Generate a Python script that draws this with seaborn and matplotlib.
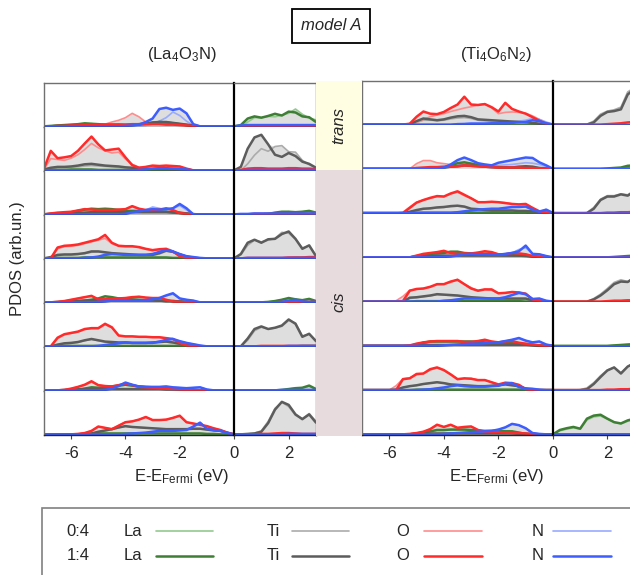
import matplotlib
matplotlib.use("Agg")
import matplotlib.pyplot as plt
from matplotlib.patches import Rectangle
from matplotlib.lines import Line2D
import numpy as np
import pandas as pd
import seaborn as sns

sns.set_theme(style="white")
plt.rcParams['font.family'] = ['Liberation Sans', 'DejaVu Sans']
plt.rcParams['mathtext.fontset'] = 'custom'
plt.rcParams['mathtext.rm'] = 'Liberation Sans'
plt.rcParams['mathtext.it'] = 'Liberation Sans:italic'
plt.rcParams['axes.unicode_minus'] = False

# ---------------- data ----------------
ENERGY = [-7.0,-6.75,-6.5,-6.25,-6.0,-5.75,-5.5,-5.25,-5.0,-4.75,-4.5,-4.25,-4.0,-3.75,-3.5,-3.25,
          -3.0,-2.75,-2.5,-2.25,-2.0,-1.75,-1.5,-1.25,-1.0,-0.75,-0.5,-0.25,0.0,
          0.25,0.5,0.75,1.0,1.25,1.5,1.75,2.0,2.25,2.5,2.75,3.0]
ROWS = ["trans", "trans", "cis", "cis", "cis", "cis", "cis", "cis"]
ELEMENTS = ["La", "Ti", "O", "N"]
RATIOS = ["0:4", "1:4"]
BLOCK_TITLES = [r"(La$_4$O$_3$N)", r"(Ti$_4$O$_6$N$_2$)"]

# ---- (La4O3N) block: values in % of panel height, -7..0 eV then 0.25..3 eV
L1_La0 = [0,1,2,3,4,5,6,6,5,5, 4,4,4,3,4,5,6,7,7,6, 4,2,1,0,0,0,0,0,0, 0,10,20,20,23,22,26,30,40,28,19,15]
L1_La1 = [0,1,2,3,4,5,7,6,5,4, 4,4,3,3,4,6,8,10,9,7, 5,3,1,0,0,0,0,0,0, 3,18,23,20,24,29,25,34,32,23,21,10]
L1_Ti0 = [0,0,1,1,1,2,2,2,2,2, 2,2,3,3,4,5,7,8,8,6, 5,3,2,0,0,0,0,0,0, 0,0,0,0,0,0,0,0,0,0,0,0]
L1_Ti1 = [0,0,1,1,2,2,2,2,2,2, 2,3,3,4,5,7,9,10,10,8, 6,4,2,0,0,0,0,0,0, 0,0,0,0,0,0,0,0,0,0,0,0]
L1_O0 = [0,1,1,2,2,3,3,4,4,5, 10,14,20,30,22,10,6,5,4,4, 3,2,0,0,0,0,0,0,0, 0,0,0,0,0,0,0,0,0,0,0,0]
L1_O1 = [0,0,1,1,2,2,3,3,3,4, 4,4,4,5,5,5,5,5,4,4, 3,2,1,0,0,0,0,0,0, 0,1,1,1,1,1,1,1,1,1,1,1]
L1_N0 = [0,0,0,0,0,0,0,0,0,0, 0,0,0,1,1,2,5,12,20,33, 25,12,2,0,0,0,0,0,0, 1,2,2,2,2,2,2,2,2,2,2,2]
L1_N1 = [0,0,0,0,0,0,0,0,0,0, 0,0,1,2,4,10,18,40,43,38, 41,30,5,0,0,0,0,0,0, 2,3,3,3,3,3,3,3,3,3,3,3]

L2_La0 = [0,1,1,1,1,1,1,1,1,1, 1,1,1,1,1,1,1,1,1,1, 1,1,0,0,0,0,0,0,0, 0,1,1,1,1,1,1,1,1,1,1,1]
L2_La1 = [0,1,1,1,2,2,2,2,1,1, 1,1,1,1,1,1,1,1,1,1, 1,1,0,0,0,0,0,0,0, 0,1,1,1,1,1,1,1,1,1,1,1]
L2_Ti0 = [1,4,6,6,7,8,10,11,10,9, 8,7,6,5,4,3,3,2,2,2, 2,1,0,0,0,0,0,0,0, 0,15,35,50,44,55,57,43,42,23,13,6]
L2_Ti1 = [2,6,8,8,9,11,14,15,13,11, 10,9,7,6,5,4,3,3,3,2, 2,1,0,0,0,0,0,0,0, 8,50,76,82,60,36,31,40,33,20,15,6]
L2_O0 = [3,27,25,23,28,36,48,62,52,45, 40,42,26,14,7,8,10,10,10,8, 6,3,0,0,0,0,0,0,0, 1,2,3,3,3,3,3,3,3,3,3,2]
L2_O1 = [4,45,28,30,33,45,62,78,60,46, 48,50,30,12,6,8,11,10,11,10, 9,4,0,0,0,0,0,0,0, 1,4,5,5,4,4,4,5,5,4,4,3]
L2_N0 = [0,0,0,0,0,0,0,0,0,0, 0,0,0,0,1,2,4,5,5,6, 4,2,0,0,0,0,0,0,0, 0,1,1,1,1,1,1,1,1,1,1,1]
L2_N1 = [0,0,0,0,0,0,0,0,0,0, 0,0,0,0,1,2,4,5,5,4, 3,2,0,0,0,0,0,0,0, 0,1,1,1,1,1,1,1,1,1,1,1]

L3_La0 = [0,1,2,3,5,8,10,12,12,12, 11,10,8,8,8,8,8,7,6,4, 3,2,0,0,0,0,0,0,0, 0,0,0,0,1,3,5,6,5,6,7,4]
L3_La1 = [0,1,2,3,5,8,11,13,12,13, 12,10,8,8,8,8,8,7,6,4, 3,2,0,0,0,0,0,0,0, 0,0,0,0,1,4,6,6,5,6,8,4]
L3_Ti0 = [0,0,1,2,3,3,4,4,4,4, 4,4,4,4,4,4,4,4,4,4, 3,2,0,0,0,0,0,0,0, 0,0,0,0,0,0,0,0,0,0,0,0]
L3_Ti1 = [0,1,1,2,3,4,4,5,5,5, 5,5,5,5,5,5,5,5,5,5, 4,2,0,0,0,0,0,0,0, 0,0,0,0,0,0,0,0,0,0,0,0]
L3_O0 = [0,2,3,4,5,8,11,11,10,10, 10,11,12,17,13,10,10,11,13,9, 3,1,0,0,0,0,0,0,0, 0,0,1,1,1,1,1,1,1,1,1,1]
L3_O1 = [0,2,4,5,6,9,12,11,10,10, 10,11,12,19,13,10,10,11,14,10, 3,1,0,0,0,0,0,0,0, 0,0,1,1,1,1,1,1,1,1,1,1]
L3_N0 = [0,0,0,0,0,0,0,0,0,0, 0,0,1,3,5,10,17,14,10,14, 20,10,2,0,0,0,0,0,0, 1,1,2,2,2,2,2,2,2,2,2,2]
L3_N1 = [0,0,0,0,0,0,0,0,0,0, 0,0,1,5,7,10,12,11,12,14, 24,14,0,0,0,0,0,0,0, 1,1,2,2,2,2,2,2,2,2,2,2]

L4_La0 = [0,0,1,1,1,1,2,2,2,2, 2,2,2,2,2,2,2,2,2,1, 1,0,0,0,0,0,0,0,0, 0,0,0,0,0,0,0,0,1,1,1,1]
L4_La1 = [0,0,1,1,1,1,2,2,2,2, 2,2,2,2,2,2,2,2,2,1, 1,0,0,0,0,0,0,0,0, 0,0,0,0,0,0,0,0,1,1,1,1]
L4_Ti0 = [0,2,6,8,8,9,11,14,15,13, 11,10,9,8,7,7,7,10,16,14, 8,3,1,0,0,0,0,0,0, 8,30,42,38,42,46,60,58,44,24,29,6]
L4_Ti1 = [0,3,8,9,9,10,12,16,16,14, 12,11,10,9,8,8,8,12,18,15, 9,4,1,0,0,0,0,0,0, 10,36,43,36,44,45,56,62,45,22,30,5]
L4_O0 = [0,0,22,27,28,30,34,38,42,46, 34,28,27,27,25,21,18,20,21,15, 5,1,0,0,0,0,0,0,0, 0,1,1,1,1,1,1,2,2,2,3,3]
L4_O1 = [0,0,25,29,30,32,36,40,44,54, 36,29,28,28,26,22,19,21,22,16, 5,1,0,0,0,0,0,0,0, 0,1,1,1,1,1,1,2,2,2,3,3]
L4_N0 = [0,0,0,0,0,0,1,2,4,8, 9,9,8,8,8,8,10,14,18,15, 10,5,3,1,0,0,0,0,0, 0,1,1,1,1,1,1,1,1,1,1,1]
L4_N1 = [0,0,0,0,0,0,1,2,4,8, 10,9,8,8,8,8,10,15,19,16, 10,5,3,1,0,0,0,0,0, 0,1,1,1,1,1,1,1,1,1,1,1]

L5_La0 = [0,0,0,0,2,3,4,6,8,13, 11,9,7,6,5,5,4,4,3,3, 2,1,1,0,0,0,0,0,0, 0,0,0,0,1,3,6,9,7,5,7,3]
L5_La1 = [0,0,0,0,2,3,4,6,9,14, 12,9,8,7,6,5,5,4,3,3, 2,1,1,0,0,0,0,0,0, 0,0,0,0,1,3,6,10,7,5,8,3]
L5_Ti0 = [0,0,0,1,2,2,3,3,3,3, 3,3,3,3,3,3,3,3,2,2, 2,1,0,0,0,0,0,0,0, 0,0,0,0,0,0,0,0,0,0,0,0]
L5_Ti1 = [0,0,1,2,3,3,4,4,4,4, 4,4,4,4,4,4,4,4,3,3, 2,1,0,0,0,0,0,0,0, 0,0,0,0,0,0,0,0,0,0,0,0]
L5_O0 = [0,0,1,3,6,9,12,14,7,7, 8,9,10,12,13,11,10,10,6,2, 1,0,0,0,0,0,0,0,0, 0,0,0,0,0,0,1,1,1,1,1,1]
L5_O1 = [0,0,1,3,6,9,12,15,7,7, 8,9,10,12,13,11,10,10,6,2, 1,0,0,0,0,0,0,0,0, 0,0,0,0,0,0,1,1,1,1,1,1]
L5_N0 = [0,0,0,0,0,0,0,0,1,2, 4,5,5,4,4,5,7,10,15,19, 9,6,4,0,0,0,0,0,0, 0,0,0,0,0,0,1,3,5,2,1,1]
L5_N1 = [0,0,0,0,0,0,0,0,1,2, 4,5,5,4,4,5,7,10,16,21, 9,6,4,0,0,0,0,0,0, 0,0,0,0,0,0,1,4,6,2,1,1]

L6_La0 = [0,0,0,1,1,1,1,1,1,1, 1,1,1,1,1,1,1,1,1,1, 1,0,0,0,0,0,0,0,0, 0,0,0,0,0,0,0,0,0,1,1,1]
L6_La1 = [0,0,0,1,1,1,1,1,1,1, 1,1,1,1,1,1,1,1,1,1, 1,0,0,0,0,0,0,0,0, 0,0,0,0,0,0,0,0,0,1,1,1]
L6_Ti0 = [0,0,3,6,7,9,13,16,13,10, 9,8,8,7,7,7,8,9,10,8, 5,3,1,0,0,0,0,0,0, 0,14,36,44,40,42,46,60,54,24,28,13]
L6_Ti1 = [0,0,4,7,8,10,14,17,14,11, 10,9,9,8,8,8,9,10,11,9, 6,3,1,0,0,0,0,0,0, 0,18,40,46,40,43,48,62,52,22,29,12]
L6_O0 = [0,0,18,27,30,33,39,41,41,50, 43,25,23,23,22,22,21,21,19,16, 8,2,0,0,0,0,0,0,0, 0,0,0,1,1,1,1,1,1,1,1,1]
L6_O1 = [0,0,20,28,31,34,40,42,42,52, 44,25,23,23,22,22,21,21,19,17, 8,2,0,0,0,0,0,0,0, 0,0,0,1,1,1,1,1,1,1,1,1]
L6_N0 = [0,0,0,0,0,0,0,0,1,3, 5,7,9,8,8,8,8,11,15,17, 12,8,5,2,0,0,0,0,0, 0,0,0,0,0,0,0,1,1,1,1,1]
L6_N1 = [0,0,0,0,0,0,0,0,1,3, 5,7,9,8,8,8,8,11,15,17, 12,8,5,2,0,0,0,0,0, 0,0,0,0,0,0,0,1,1,1,1,1]

L7_La0 = [0,0,0,0,0,2,4,6,6,7, 8,10,12,10,9,8,7,6,5,4, 3,2,1,0,0,0,0,0,0, 0,0,0,0,0,0,1,3,5,6,9,3]
L7_La1 = [0,0,0,0,0,2,4,7,6,7, 9,11,13,11,9,8,7,6,5,4, 3,2,1,0,0,0,0,0,0, 0,0,0,0,0,0,1,3,5,6,11,3]
L7_Ti0 = [0,0,0,1,1,2,2,2,2,2, 2,2,2,2,2,2,2,2,2,2, 1,1,0,0,0,0,0,0,0, 0,0,0,0,0,0,0,0,0,0,0,0]
L7_Ti1 = [0,0,0,1,2,2,3,3,3,3, 3,3,3,3,3,3,3,3,2,2, 2,1,0,0,0,0,0,0,0, 0,0,0,0,0,0,0,0,0,0,0,0]
L7_O0 = [0,0,0,1,4,8,12,19,12,10, 9,12,15,12,8,7,6,5,4,3, 2,1,0,0,0,0,0,0,0, 0,0,0,0,0,0,0,0,0,0,0,0]
L7_O1 = [0,0,0,1,4,8,13,21,12,10, 9,12,16,12,8,7,6,5,4,3, 2,1,0,0,0,0,0,0,0, 0,0,0,0,0,0,0,0,0,0,0,0]
L7_N0 = [0,0,0,0,0,0,0,0,0,1, 4,10,17,13,9,8,8,8,9,7, 6,5,6,7,2,0,0,0,0, 0,0,0,0,0,0,1,1,1,1,1,1]
L7_N1 = [0,0,0,0,0,0,0,0,0,1, 4,10,18,13,9,8,8,8,9,7, 6,5,6,7,2,0,0,0,0, 0,0,0,0,0,0,1,1,1,1,1,1]

L8_La0 = [0,0,0,0,0,0,1,1,2,2, 2,2,2,2,2,2,2,2,2,2, 2,2,2,2,1,1,0,0,0, 0,0,0,0,0,0,0,0,0,0,0,0]
L8_La1 = [0,0,0,0,0,0,1,1,2,2, 2,2,2,2,2,2,2,2,2,2, 2,2,2,2,1,1,0,0,0, 0,0,0,0,0,0,0,0,0,0,0,0]
L8_Ti0 = [0,0,0,0,0,0,0,2,5,8, 11,15,18,17,16,15,14,13,12,12, 12,12,13,13,11,9,8,4,0, 0,1,3,8,30,60,74,64,44,36,48,30]
L8_Ti1 = [0,0,0,0,0,0,0,2,6,9, 12,16,19,17,16,15,14,13,12,12, 12,12,13,13,11,9,8,4,0, 0,1,2,6,26,57,75,68,46,35,46,27]
L8_O0 = [0,0,0,0,0,1,3,8,18,15, 12,20,28,30,34,40,33,33,34,38, 43,28,25,22,19,14,10,4,0, 0,0,0,1,1,2,3,3,2,1,1,1]
L8_O1 = [0,0,0,0,0,1,3,8,18,15, 12,20,28,30,34,40,33,33,34,38, 43,28,25,22,19,14,10,4,0, 0,0,0,1,1,2,3,3,2,1,1,1]
L8_N0 = [0,0,0,0,0,0,0,0,0,0, 0,0,1,2,3,4,6,8,8,8, 9,10,18,27,13,10,8,3,0, 0,0,0,0,0,0,0,1,1,1,1,1]
L8_N1 = [0,0,0,0,0,0,0,0,0,0, 0,0,1,2,3,4,6,8,8,8, 9,10,18,27,13,10,8,3,0, 0,0,0,0,0,0,0,1,1,1,1,1]

# ---- (Ti4O6N2) block
R1_La0 = [0,0,0,0,0,0,0,0,0,0, 0,0,0,0,0,0,0,0,0,0, 0,0,0,0,0,0,0,0,0, 0,0,0,0,0,0,0,0,0,0,0,0]
R1_La1 = [0,0,0,0,0,0,0,0,0,0, 0,0,0,0,0,0,0,0,0,0, 0,0,0,0,0,0,0,0,0, 0,0,0,0,0,0,0,0,0,0,0,0]
R1_Ti0 = [0,0,0,0,0,0,0,1,5,10, 10,9,10,13,15,16,14,10,9,8, 7,7,6,5,5,3,2,1,0, 0,0,0,0,1,8,24,31,34,40,75,85]
R1_Ti1 = [0,0,0,0,0,0,0,1,8,14, 12,10,12,16,19,20,17,12,11,10, 9,8,7,6,5,4,2,1,0, 0,0,0,0,0,5,20,29,31,35,69,82]
R1_O0 = [0,0,0,0,0,0,0,0,5,12, 18,22,25,30,34,38,41,45,48,38, 25,28,29,28,26,20,12,4,0, 0,0,0,0,0,0,0,1,1,2,3,4]
R1_O1 = [0,0,0,0,0,0,0,2,18,30, 25,24,29,38,46,64,46,45,47,40, 30,50,36,30,25,17,9,2,0, 0,0,0,0,0,0,0,1,2,3,5,6]
R1_N0 = [0,0,0,0,0,0,0,0,0,0, 0,0,0,0,2,3,4,4,5,5, 6,6,7,8,10,14,12,6,1, 0,0,0,0,0,0,0,0,0,0,0,0]
R1_N1 = [0,0,0,0,0,0,0,0,0,0, 0,0,0,0,1,1,2,2,2,3, 3,3,4,5,6,10,8,3,0, 0,0,0,0,0,0,0,0,0,0,0,0]

R2_La0 = [0,0,0,0,0,0,0,0,0,0, 0,0,2,5,9,11,9,7,5,4, 3,2,1,0,0,0,0,0,0, 0,0,0,0,0,0,0,0,1,2,4,5]
R2_La1 = [0,0,0,0,0,0,0,0,0,0, 0,0,3,8,13,15,12,9,7,5, 4,3,2,1,0,0,0,0,0, 0,0,0,0,0,0,0,1,2,3,7,8]
R2_Ti0 = [0,0,0,0,0,0,0,0,0,0, 0,0,2,4,5,6,6,5,4,3, 3,3,3,4,5,4,2,1,0, 0,0,0,0,0,0,0,0,0,0,0,0]
R2_Ti1 = [0,0,0,0,0,0,0,0,0,0, 0,0,3,5,6,8,7,6,5,4, 3,3,3,5,6,5,2,1,0, 0,0,0,0,0,0,0,0,0,0,0,0]
R2_O0 = [0,0,0,0,0,0,0,0,12,19, 19,14,12,10,9,8,7,7,6,5, 4,4,5,5,4,3,2,1,0, 0,0,0,0,0,0,0,0,0,0,0,0]
R2_O1 = [0,0,0,0,0,0,0,0,2,3, 4,4,5,5,6,8,7,6,5,4, 3,3,3,3,2,2,1,0,0, 0,0,0,0,0,0,0,0,0,0,0,0]
R2_N0 = [0,0,0,0,0,0,0,0,0,0, 0,0,2,5,8,13,12,11,10,9, 8,9,10,12,14,13,10,5,0, 0,0,0,0,0,0,0,0,0,1,1,1]
R2_N1 = [0,0,0,0,0,0,0,0,0,0, 0,1,3,10,20,26,20,13,10,8, 14,17,20,23,26,25,15,8,0, 0,0,0,0,0,0,0,0,0,1,1,1]

R3_La0 = [0,0,0,0,0,0,0,0,1,1, 1,1,1,1,1,1,1,1,1,1, 1,1,1,1,1,0,0,0,0, 0,0,0,0,0,0,0,0,0,0,0,0]
R3_La1 = [0,0,0,0,0,0,0,0,1,1, 1,1,1,1,1,1,1,1,1,1, 1,1,1,1,1,0,0,0,0, 0,0,0,0,0,0,0,0,0,0,0,0]
R3_Ti0 = [0,0,0,0,0,0,0,3,6,9, 10,12,13,15,16,14,10,9,7,6, 6,6,6,5,5,4,2,1,0, 0,0,0,0,1,13,32,40,40,44,42,52]
R3_Ti1 = [0,0,0,0,0,0,0,3,7,10, 11,13,14,16,17,15,10,9,7,6, 6,6,6,5,5,4,2,1,0, 0,0,0,0,0,10,30,38,38,43,40,50]
R3_O0 = [0,0,0,0,0,0,2,14,25,30, 34,38,38,44,48,40,34,26,25,26, 25,24,21,20,20,12,4,1,0, 0,0,0,0,0,0,0,1,1,2,2,3]
R3_O1 = [0,0,0,0,0,0,0,12,24,30, 35,39,38,45,50,42,34,25,25,26, 25,23,21,20,21,12,4,1,0, 0,0,0,0,0,0,0,1,1,2,2,3]
R3_N0 = [0,0,0,0,0,0,0,0,0,0, 0,0,0,0,2,4,6,8,9,10, 10,12,13,14,14,8,5,8,1, 0,0,0,0,0,0,0,0,0,0,0,0]
R3_N1 = [0,0,0,0,0,0,0,0,0,0, 0,0,0,0,2,4,6,8,9,10, 10,12,14,14,15,8,3,8,0, 0,0,0,0,0,0,0,0,0,0,0,0]

R4_La0 = [0,0,0,0,0,0,0,0,2,4, 7,8,10,12,12,10,9,8,8,7, 6,5,5,4,3,2,1,0,0, 0,0,0,0,0,0,0,0,0,1,2,3]
R4_La1 = [0,0,0,0,0,0,0,0,2,5, 8,9,10,13,13,10,9,8,8,7, 6,5,5,4,3,2,1,0,0, 0,0,0,0,0,0,0,0,1,2,3,4]
R4_Ti0 = [0,0,0,0,0,0,0,0,1,2, 2,3,3,3,3,3,3,3,3,3, 3,3,3,3,3,2,1,0,0, 0,0,0,0,0,0,0,0,0,0,0,0]
R4_Ti1 = [0,0,0,0,0,0,0,0,2,3, 3,4,4,4,4,4,4,4,4,4, 4,4,4,4,4,2,1,0,0, 0,0,0,0,0,0,0,0,0,0,0,0]
R4_O0 = [0,0,0,0,0,0,0,0,4,7, 9,11,14,10,8,9,9,11,13,12, 7,7,9,9,7,3,1,0,0, 0,0,0,0,0,0,0,0,0,0,0,0]
R4_O1 = [0,0,0,0,0,0,0,0,4,8, 10,12,15,10,8,9,9,11,14,12, 7,7,10,9,7,3,1,0,0, 0,0,0,0,0,0,0,0,0,0,0,0]
R4_N0 = [0,0,0,0,0,0,0,0,0,0, 0,0,1,2,4,6,7,7,6,6, 6,8,10,18,22,8,7,3,0, 0,0,0,0,0,0,0,0,0,0,0,0]
R4_N1 = [0,0,0,0,0,0,0,0,0,0, 0,0,1,2,4,7,8,7,7,6, 6,8,10,14,27,8,7,3,0, 0,0,0,0,0,0,0,0,0,0,0,0]

R5_La0 = [0,0,0,0,0,0,0,0,1,1, 1,1,1,1,1,1,1,1,1,1, 1,1,1,1,0,0,0,0,0, 0,0,0,0,0,0,0,0,0,0,0,0]
R5_La1 = [0,0,0,0,0,0,0,0,1,1, 1,1,1,1,1,1,1,1,1,1, 1,1,1,1,0,0,0,0,0, 0,0,0,0,0,0,0,0,0,0,0,0]
R5_Ti0 = [0,0,0,0,0,0,0,7,9,11, 13,16,15,14,13,11,9,8,7,7, 6,6,6,6,6,3,1,0,0, 0,0,0,0,0,7,17,30,44,50,46,56]
R5_Ti1 = [0,0,0,0,0,0,0,9,10,12, 14,17,16,15,14,12,10,9,8,7, 7,7,7,7,7,3,1,0,0, 0,0,0,0,0,5,14,26,40,46,45,55]
R5_O0 = [0,0,0,0,0,2,12,26,28,30, 33,39,40,44,51,40,32,25,28,26, 19,20,22,21,19,6,2,1,0, 0,0,0,0,0,0,0,1,2,2,3,3]
R5_O1 = [0,0,0,0,0,0,1,25,29,30, 34,40,40,46,50,40,30,25,28,28, 19,20,22,21,18,5,2,0,0, 0,0,0,0,0,0,0,1,2,2,3,3]
R5_N0 = [0,0,0,0,0,0,0,0,0,0, 0,0,2,3,5,7,7,7,7,7, 7,10,15,19,16,6,7,2,0, 0,0,0,0,0,0,0,0,0,0,0,0]
R5_N1 = [0,0,0,0,0,0,0,0,0,0, 0,0,2,3,5,7,7,7,7,7, 7,10,15,20,17,6,7,2,0, 0,0,0,0,0,0,0,0,0,0,0,0]

R6_La0 = [0,0,0,0,0,0,0,0,2,5, 8,9,9,9,9,9,9,8,7,6, 6,5,5,4,3,2,1,0,0, 0,0,0,0,0,0,0,0,1,2,3,4]
R6_La1 = [0,0,0,0,0,0,0,0,3,7, 10,10,10,10,10,10,10,9,8,7, 7,6,6,4,3,2,1,0,0, 0,0,0,0,0,0,0,0,1,2,3,4]
R6_Ti0 = [0,0,0,0,0,0,0,0,1,2, 2,2,2,2,2,2,2,2,2,2, 2,2,2,2,2,1,0,0,0, 0,0,0,0,0,0,0,0,0,0,0,0]
R6_Ti1 = [0,0,0,0,0,0,0,0,1,2, 2,2,2,2,2,2,2,2,2,2, 2,2,2,2,2,1,0,0,0, 0,0,0,0,0,0,0,0,0,0,0,0]
R6_O0 = [0,0,0,0,0,0,0,1,5,8, 10,11,11,11,11,9,9,11,14,10, 8,10,11,7,5,3,1,0,0, 0,0,0,0,0,0,0,0,0,0,0,0]
R6_O1 = [0,0,0,0,0,0,0,1,5,8, 10,11,11,11,11,9,9,11,14,10, 8,10,11,7,5,3,1,0,0, 0,0,0,0,0,0,0,0,0,0,0,0]
R6_N0 = [0,0,0,0,0,0,0,0,0,0, 0,0,1,2,3,4,5,5,6,7, 8,11,14,17,12,8,10,3,0, 0,0,0,0,0,0,0,0,0,0,0,0]
R6_N1 = [0,0,0,0,0,0,0,0,0,0, 0,0,1,2,3,4,5,5,6,7, 8,11,14,18,12,8,10,3,0, 0,0,0,0,0,0,0,0,0,0,0,0]

R7_La0 = [0,0,0,0,0,0,0,0,1,1, 1,1,1,1,1,1,1,1,1,1, 1,1,1,1,0,0,0,0,0, 0,0,0,0,0,0,0,0,0,0,0,0]
R7_La1 = [0,0,0,0,0,0,0,0,1,1, 1,1,1,1,1,1,1,1,1,1, 1,1,1,1,0,0,0,0,0, 0,0,0,0,0,0,0,0,0,0,0,0]
R7_Ti0 = [0,0,0,0,0,1,6,9,11,14, 16,18,16,13,12,11,10,9,9,10, 11,13,11,9,3,0,0,0,0, 0,0,0,1,5,17,33,46,52,40,54,64]
R7_Ti1 = [0,0,0,0,0,1,6,9,11,14, 16,18,16,13,12,11,10,9,9,10, 11,13,11,9,3,0,0,0,0, 0,0,0,0,2,14,30,45,52,38,54,62]
R7_O0 = [0,0,0,0,0,10,26,28,35,38, 46,51,45,36,26,26,27,23,23,18, 13,16,16,12,3,0,0,0,0, 0,0,0,0,0,0,0,1,1,2,2,3]
R7_O1 = [0,0,0,0,0,0,25,27,37,38, 48,52,46,36,25,27,26,23,23,18, 13,17,16,12,2,0,0,0,0, 0,0,0,0,0,0,0,1,1,2,2,3]
R7_N0 = [0,0,0,0,0,0,0,0,0,1, 2,4,6,9,11,9,8,8,8,9, 10,15,16,7,4,3,1,0,0, 0,0,0,0,0,0,0,0,0,0,0,0]
R7_N1 = [0,0,0,0,0,0,0,0,0,1, 2,4,6,9,11,9,8,8,8,9, 10,15,16,7,4,3,1,0,0, 0,0,0,0,0,0,0,0,0,0,0,0]

R8_La0 = [0,0,0,0,0,0,0,0,2,3, 6,9,9,10,10,10,9,8,7,7, 7,7,6,4,1,0,0,0,0, 8,12,15,12,33,40,42,35,27,24,30,34]
R8_La1 = [0,0,0,0,0,0,0,0,2,4, 7,10,10,11,11,11,10,9,8,8, 8,7,7,4,1,0,0,0,0, 10,14,17,13,36,43,45,36,28,25,32,36]
R8_Ti0 = [0,0,0,0,0,0,0,0,1,2, 2,2,2,2,2,2,2,2,2,2, 2,2,2,1,1,0,0,0,0, 0,0,0,0,0,0,0,0,0,0,0,0]
R8_Ti1 = [0,0,0,0,0,0,0,0,1,2, 2,2,2,2,2,2,2,2,2,2, 2,2,2,1,1,0,0,0,0, 0,0,0,0,0,0,0,0,0,0,0,0]
R8_O0 = [0,0,0,0,0,0,0,1,3,6, 12,22,17,22,15,17,18,10,6,5, 5,4,3,3,2,1,0,0,0, 0,0,0,0,0,0,0,0,0,0,0,0]
R8_O1 = [0,0,0,0,0,0,0,1,3,6, 12,22,17,22,15,17,18,10,6,5, 5,4,3,3,2,1,0,0,0, 0,0,0,0,0,0,0,0,0,0,0,0]
R8_N0 = [0,0,0,0,0,0,0,0,0,0, 0,0,1,2,3,4,5,6,7,8, 11,16,24,21,14,3,1,0,0, 0,0,0,0,0,0,0,0,0,0,0,0]
R8_N1 = [0,0,0,0,0,0,0,0,0,0, 0,0,1,2,3,4,5,6,7,8, 11,16,24,21,14,3,1,0,0, 0,0,0,0,0,0,0,0,0,0,0,0]

# ---------------- style ----------------
SERIES = ["La0", "Ti0", "O0", "N0", "La1", "Ti1", "O1", "N1"]
COLORS = {"La0": "#93c98f", "La1": "#3f7f35", "Ti0": "#ababab", "Ti1": "#5c5c5c",
          "O0": "#ff8c8c", "O1": "#ff2b2b", "N0": "#97abff", "N1": "#3d5eff"}
WIDTHS = {s: (1.2 if s.endswith("0") else 1.8) for s in SERIES}

W, H = 630, 575
fig = plt.figure(figsize=(W / 100, H / 100), dpi=100)
fig.patch.set_facecolor("white")

def box(x0, y0, x1, y1):
    return [x0 / W, 1 - y1 / H, (x1 - x0) / W, (y1 - y0) / H]

bad = []
def series(block, row, s):
    arr = globals()[f"{block}{row}_{s}"]
    if len(arr) != len(ENERGY):
        bad.append(f"{block}{row}_{s}:{len(arr)}")
        arr = (list(arr) + [0] * 41)[:41]
    return np.array(arr, dtype=float)

BLOCKS = {
    "L": dict(xv=(44, 234), xc=(234, 316), top=83.0, rh=44.0),
    "R": dict(xv=(362, 553), xc=(553, 634.5), top=81.0, rh=44.25),
}
EN = np.array(ENERGY)

for b, geo in BLOCKS.items():
    for r in range(8):
        y0 = geo["top"] + r * geo["rh"]
        y1 = y0 + geo["rh"]
        for part in ("v", "c"):
            xs = geo["xv"] if part == "v" else geo["xc"]
            ax = fig.add_axes(box(xs[0], y0, xs[1], y1))
            sl = slice(0, 29) if part == "v" else slice(28, 41)
            frames = []
            stack = []
            for s in SERIES:
                vals = series(b, r + 1, s)[sl]
                stack.append(vals)
                frames.append(pd.DataFrame({"E": EN[sl], "pdos": vals, "series": s}))
            df = pd.concat(frames, ignore_index=True)
            env = np.max(np.vstack(stack), axis=0)
            ax.fill_between(EN[sl], 0, env, color="#dedede", lw=0, zorder=0.5)
            sns.lineplot(data=df, x="E", y="pdos", hue="series", hue_order=SERIES,
                         palette=COLORS, size="series", size_order=SERIES, sizes=WIDTHS,
                         estimator=None, legend=False, ax=ax)
            if part == "v":
                ax.set_xlim(-7, 0)
            else:
                ax.set_xlim(0, 3)
            ax.set_ylim(-1.5, 100)
            ax.set_xlabel("")
            ax.set_ylabel("")
            ax.set_yticks([])
            for sp in ax.spines.values():
                sp.set_color("#707070")
                sp.set_linewidth(1.0)
            ax.spines["bottom"].set_color("#262633")
            if r > 0:
                ax.spines["top"].set_visible(False)
            if part == "v":
                ax.spines["right"].set_visible(False)
            else:
                ax.spines["left"].set_color("black")
                ax.spines["left"].set_linewidth(1.6)
            if r == 7:
                if part == "v":
                    ax.set_xticks([-6, -4, -2])
                    ax.set_xticklabels(["-6", "-4", "-2"])
                else:
                    ax.set_xticks([0, 2])
                    ax.set_xticklabels(["0", "2"])
                ax.tick_params(axis="x", bottom=True, direction="out", length=3,
                               width=0.8, color="#444444", labelsize=12, pad=5)
            else:
                ax.set_xticks([])

# middle strip
axm = fig.add_axes(box(316, 81, 362, 436))
axm.set_xlim(0, 1)
axm.set_ylim(436, 81)
axm.axhspan(81, 170, color="#fffee3", lw=0)
axm.axhspan(170, 436, color="#e7dbde", lw=0)
axm.axis("off")
axm.text(0.5, 125, "trans", rotation=90, ha="center", va="center", fontsize=12, style="italic")
axm.text(0.5, 302, "cis", rotation=90, ha="center", va="center", fontsize=12, style="italic")

# titles and labels
fig.text(331 / W, 1 - 26 / H, "model A", ha="center", va="center", fontsize=12, style="italic",
         bbox=dict(boxstyle="square,pad=0.55", fc="white", ec="black", lw=1.3))
fig.text(182 / W, 1 - 55 / H, BLOCK_TITLES[0], ha="center", va="center", fontsize=12)
fig.text(496 / W, 1 - 55 / H, BLOCK_TITLES[1], ha="center", va="center", fontsize=12)
fig.text(18 / W, 1 - 259 / H, "PDOS (arb.un.)", rotation=90, ha="center", va="center", fontsize=12)
XLAB = r"E-E$_{\mathrm{Fermi}}$ (eV)"
fig.text(182 / W, 1 - 477 / H, XLAB, ha="center", va="center", fontsize=12)
fig.text(497 / W, 1 - 477 / H, XLAB, ha="center", va="center", fontsize=12)

# legend
fig.add_artist(Rectangle((42 / W, 1 - 590 / H), (650 - 42) / W, (590 - 508) / H,
                         transform=fig.transFigure, fc="white", ec="#808080", lw=1.2))
LEG_Y = [531, 556]
EL_X = {"La": (133, 156, 213), "Ti": (273, 292, 349), "O": (403, 424, 482), "N": (538, 553, 611)}
for k, ratio in enumerate(RATIOS):
    yy = 1 - LEG_Y[k] / H
    fig.text(78 / W, yy, ratio, ha="center", va="center", fontsize=12)
    for el in ELEMENTS:
        tx, lx0, lx1 = EL_X[el]
        key = f"{el}{k}"
        fig.text(tx / W, yy, el, ha="center", va="center", fontsize=12)
        fig.add_artist(Line2D([lx0 / W, lx1 / W], [yy, yy], transform=fig.transFigure,
                              color=COLORS[key], lw=WIDTHS[key]))

if bad:
    fig.text(0.5, 0.5, "BAD: " + " ".join(bad), color="red", fontsize=8, ha="center", wrap=True)

fig.savefig("out.png", dpi=100, facecolor="white")
